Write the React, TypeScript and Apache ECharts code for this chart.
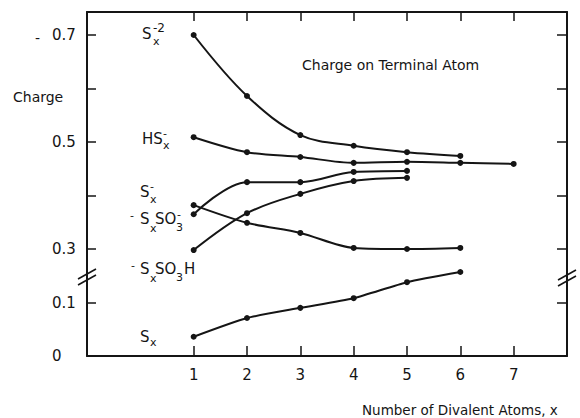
import React, { useEffect, useRef } from "react";
import * as echarts from "echarts";

// x positions (number of divalent atoms)
const xs5 = [1, 2, 3, 4, 5];
const xs6 = [1, 2, 3, 4, 5, 6];
const xs7 = [1, 2, 3, 4, 5, 6, 7];

// charge on terminal atom (magnitudes)
const sx2Vals = [0.7, 0.586, 0.513, 0.493, 0.481, 0.474];
const hsxVals = [0.509, 0.481, 0.472, 0.461, 0.463, 0.461, 0.459];
const sxMinusVals = [0.365, 0.425, 0.425, 0.444, 0.446];
const sxso3Vals = [0.382, 0.349, 0.33, 0.302, 0.3, 0.302];
const sxso3hVals = [0.298, 0.367, 0.403, 0.427, 0.433];
const sxVals = [0.036, 0.071, 0.09, 0.108, 0.138, 0.157];

// axis ticks
const xTicks = [1, 2, 3, 4, 5, 6, 7];
const yTickPos = [0, 0.1, 0.2, 0.3, 0.4, 0.5, 0.6];
const yLabelPos = [0, 0.1, 0.2, 0.4, 0.6];
const yLabelText = ["0", "0.1", "0.3", "", "0.5", "", "0.7"];

const FONT = "DejaVu Sans";
const INK = "#151515";

// broken axis: 0.1..0.3 gap collapsed into one step
const toAxis = (v: number) => (v >= 0.25 ? v - 0.1 : v);

const mk = (xs: number[], vals: number[]) => xs.map((x, i) => [x, toAxis(vals[i])]);

const T = (text: string, x: number, y: number, size = 15) => ({
  type: "text",
  x,
  y,
  silent: true,
  style: {
    text,
    fill: INK,
    fontSize: size,
    fontFamily: FONT,
    align: "left",
    verticalAlign: "middle",
    textAlign: "left",
    textVerticalAlign: "middle",
  },
});

const L = (x1: number, y1: number, x2: number, y2: number) => ({
  type: "line",
  silent: true,
  shape: { x1, y1, x2, y2 },
  style: { stroke: INK, lineWidth: 1.6 },
});

export default function App() {
  const ref = useRef<HTMLDivElement>(null);
  useEffect(() => {
    if (!ref.current) return;
    const chart = echarts.init(ref.current, null, { renderer: "svg" });
    const axisLine = { show: true, onZero: false, lineStyle: { color: INK, width: 2 } };
    const tickStyle = { color: INK, width: 1.5 };
    const lineSeries = (name: string, data: number[][], smooth: number) => ({
      name,
      type: "line",
      data,
      smooth,
      symbol: "circle",
      symbolSize: 6,
      itemStyle: { color: INK },
      lineStyle: { color: INK, width: 2 },
      z: 3,
    });
    chart.setOption({
      animation: false,
      backgroundColor: "#ffffff",
      grid: { left: 87, right: 13, top: 12, bottom: 62, containLabel: false },
      xAxis: [
        {
          type: "value",
          min: -1,
          max: 8,
          position: "bottom",
          axisLine,
          axisTick: { show: true, inside: true, length: 10, customValues: xTicks, lineStyle: tickStyle },
          axisLabel: { show: true, customValues: xTicks, margin: 11, fontSize: 15, fontFamily: FONT, color: INK },
          splitLine: { show: false },
        },
        {
          type: "value",
          min: -1,
          max: 8,
          position: "top",
          axisLine,
          axisTick: { show: true, inside: true, length: 9, customValues: xTicks, lineStyle: tickStyle },
          axisLabel: { show: false },
          splitLine: { show: false },
        },
      ],
      yAxis: [
        {
          type: "value",
          min: 0,
          max: 0.643,
          position: "left",
          axisLine,
          axisTick: { show: true, inside: true, length: 9, customValues: yTickPos, lineStyle: tickStyle },
          axisLabel: {
            show: true,
            customValues: yLabelPos,
            align: "left",
            margin: 35,
            fontSize: 15,
            fontFamily: FONT,
            color: INK,
            formatter: (v: number) => yLabelText[Math.round(v * 10)] ?? "",
          },
          splitLine: { show: false },
        },
        {
          type: "value",
          min: 0,
          max: 0.643,
          position: "right",
          axisLine,
          axisTick: { show: true, inside: true, length: 10, customValues: yTickPos, lineStyle: tickStyle },
          axisLabel: { show: false },
          splitLine: { show: false },
        },
      ],
      series: [
        lineSeries("Sx-2", mk(xs6, sx2Vals), 0.35),
        lineSeries("HSx-", mk(xs7, hsxVals), 0.3),
        lineSeries("Sx-", mk(xs5, sxMinusVals), 0.35),
        lineSeries("SxSO3-", mk(xs6, sxso3Vals), 0.3),
        lineSeries("SxSO3H", mk(xs5, sxso3hVals), 0.35),
        lineSeries("Sx", mk(xs6, sxVals), 0.2),
      ],
      graphic: [
        // axis titles
        T("Charge", 13, 97, 14),
        T("-", 35, 38, 14),
        T("Charge on Terminal Atom", 302, 65, 14),
        T("Number of Divalent Atoms, x", 362, 410, 13.5),
        // S_x^-2
        T("S", 142, 34),
        T("x", 153, 41, 11),
        T("-2", 153, 28, 12),
        // HS_x^-
        T("HS", 142, 139),
        T("x", 163, 145, 11),
        T("-", 163, 133, 11),
        // S_x^-
        T("S", 140, 192),
        T("x", 150, 199, 11),
        T("-", 150, 186, 11),
        // - S_x SO_3^-
        T("-", 130, 215, 11),
        T("S", 140, 219),
        T("x", 150, 228, 11),
        T("SO", 155, 219),
        T("3", 176, 227, 11),
        T("-", 177, 214, 11),
        // - S_x SO_3 H
        T("-", 131, 265, 11),
        T("S", 140, 269),
        T("x", 150, 278, 11),
        T("SO", 155, 269),
        T("3", 176, 277, 11),
        T("H", 184, 269),
        // S_x
        T("S", 140, 337),
        T("x", 150, 342, 11),
        // axis break marks
        L(78, 279, 96, 269),
        L(78, 285, 96, 275),
        L(558, 280, 576, 270),
        L(558, 286, 576, 276),
      ],
    });
    return () => chart.dispose();
  }, []);
  return (
    <div
      ref={ref}
      style={{ position: "absolute", left: 0, top: 0, width: 580, height: 418, background: "#fff" }}
    />
  );
}
